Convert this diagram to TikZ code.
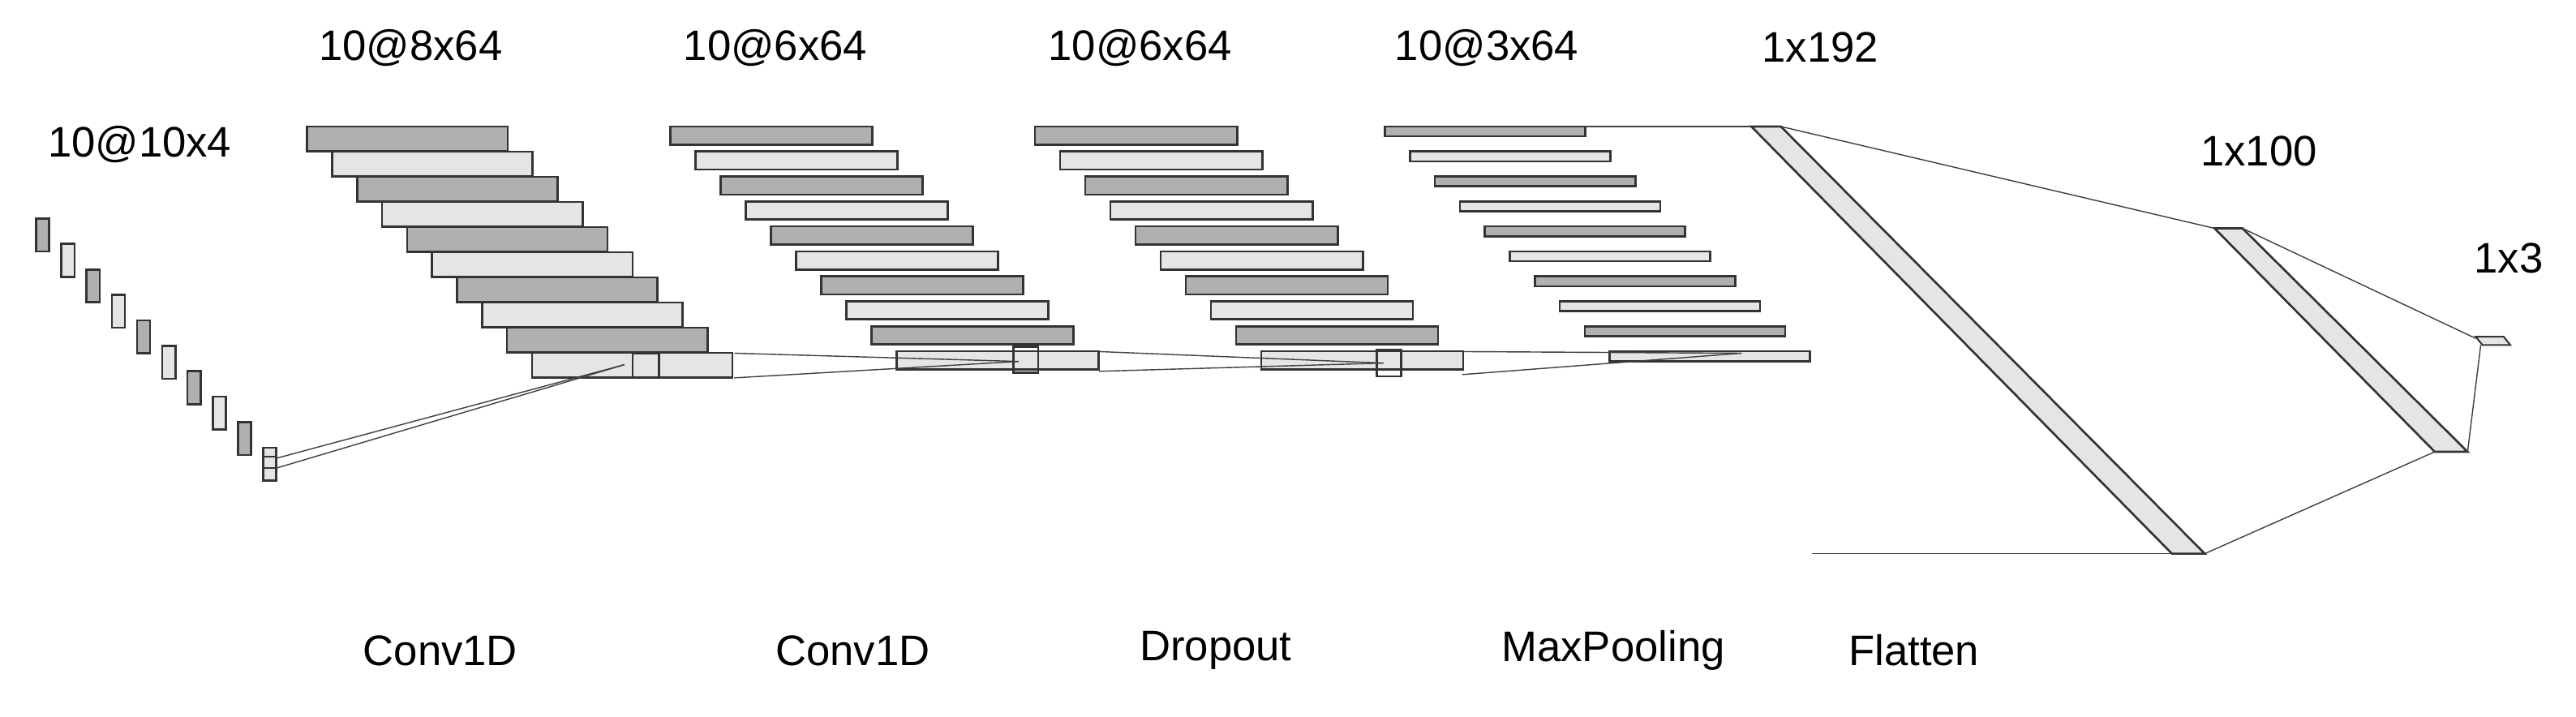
\documentclass[tikz,border=0pt]{standalone}
\usepackage{fontspec}
\setmainfont{Liberation Sans}
\begin{document}
\begin{tikzpicture}[x=1pt,y=-1pt,
  dk/.style={fill=black!31,draw=black!80,line width=1.3pt},
  lt/.style={fill=black!10,draw=black!80,line width=1.3pt},
  con/.style={draw=black!75,line width=0.7pt},
  lbl/.style={font=\fontsize{26}{30}\selectfont,inner sep=0pt}]
\useasboundingbox (0,0) rectangle (1568,436.4);
% input
\foreach \i in {0,...,9}{
  \pgfmathsetmacro\xx{22+15.35*\i}\pgfmathsetmacro\yy{133+15.5*\i}
  \pgfmathtruncatemacro\m{mod(\i,2)}
  \ifnum\m=0 \draw[dk] (\xx,\yy) rectangle ++(8,20);\else\draw[lt] (\xx,\yy) rectangle ++(8,20);\fi}
\draw[black!80,line width=1pt] (160.2,278) rectangle (168.2,285);
\coordinate (i1) at (168,279); \coordinate (i2) at (168,285);
% conv1
\foreach \i in {0,...,9}{
  \pgfmathsetmacro\xx{187+15.2*\i}\pgfmathsetmacro\yy{77+15.3*\i}
  \pgfmathtruncatemacro\m{mod(\i,2)}
  \ifnum\m=0 \draw[dk] (\xx,\yy) rectangle ++(122,15);\else\draw[lt] (\xx,\yy) rectangle ++(122,15);\fi}
\draw[black!80,line width=1.3pt] (385,215) rectangle (401,230);
\coordinate (c1k) at (380,222);
\coordinate (c1a) at (447,215); \coordinate (c1b) at (447,230);
% conv2
\foreach \i in {0,...,9}{
  \pgfmathsetmacro\xx{408+15.3*\i}\pgfmathsetmacro\yy{77+15.2*\i}
  \pgfmathtruncatemacro\m{mod(\i,2)}
  \ifnum\m=0 \draw[dk] (\xx,\yy) rectangle ++(123,11);\else\draw[lt] (\xx,\yy) rectangle ++(123,11);\fi}
\draw[black!80,line width=1.3pt] (617,211) rectangle (632,227);
\coordinate (c2k) at (620,220);
\coordinate (c2a) at (669,214); \coordinate (c2b) at (669,226);
% dropout
\foreach \i in {0,...,9}{
  \pgfmathsetmacro\xx{630+15.3*\i}\pgfmathsetmacro\yy{77+15.2*\i}
  \pgfmathtruncatemacro\m{mod(\i,2)}
  \ifnum\m=0 \draw[dk] (\xx,\yy) rectangle ++(123,11);\else\draw[lt] (\xx,\yy) rectangle ++(123,11);\fi}
\draw[black!80,line width=1.3pt] (838,213) rectangle (853,229);
\coordinate (dk) at (842,221);
\coordinate (da) at (890,214); \coordinate (db) at (890,228);
% maxpool
\foreach \i in {0,...,9}{
  \pgfmathsetmacro\xx{843+15.2*\i}\pgfmathsetmacro\yy{77+15.2*\i}
  \pgfmathtruncatemacro\m{mod(\i,2)}
  \ifnum\m=0 \draw[dk] (\xx,\yy) rectangle ++(122,6);\else\draw[lt] (\xx,\yy) rectangle ++(122,6);\fi}
\coordinate (mk) at (1060,215);
\coordinate (mt) at (965,77); \coordinate (mb) at (1103,337);
% flatten
\draw[lt] (1066,77) -- (1084,77) -- (1342,337) -- (1322,337) -- cycle;
\coordinate (ft) at (1066,77); \coordinate (ftr) at (1084,77);
\coordinate (fb) at (1322,337); \coordinate (fbr) at (1342,337);
% dense
\draw[lt] (1348,139) -- (1365,139) -- (1502,275) -- (1482,275) -- cycle;
\coordinate (dt) at (1348,139); \coordinate (dtr) at (1365,139);
\coordinate (db2) at (1482,275); \coordinate (dbr) at (1502,275);
% output
\draw[lt,line width=1pt] (1507,205) -- (1524,205) -- (1528,210) -- (1511,210) -- cycle;
\coordinate (ot) at (1507,206); \coordinate (ob) at (1510,210);
% connectors
\draw[con] (i1) -- (c1k); \draw[con] (i2) -- (c1k);
\draw[con] (c1a) -- (c2k); \draw[con] (c1b) -- (c2k);
\draw[con] (c2a) -- (dk); \draw[con] (c2b) -- (dk);
\draw[con] (da) -- (mk); \draw[con] (db) -- (mk);
\draw[con] (mt) -- (ft); \draw[con] (mb) -- (fb);
\draw[con] (ftr) -- (dt); \draw[con] (fbr) -- (db2);
\draw[con] (dtr) -- (ot); \draw[con] (dbr) -- (ob);
% labels
\node[lbl] (l0) at (85,88) {10@10x4};
\node[lbl] (l1) at (250,29) {10@8x64};
\node[lbl] (l2) at (472,29) {10@6x64};
\node[lbl] (l3) at (694,29) {10@6x64};
\node[lbl] (l4) at (905,29) {10@3x64};
\node[lbl] (l5) at (1108,29) {1x192};
\node[lbl] (l6) at (1375,92) {1x100};
\node[lbl] (l7) at (1527,157) {1x3};
\node[lbl] (b1) at (268,396) {Conv1D};
\node[lbl] (b2) at (519,396) {Conv1D};
\node[lbl] (b3) at (740,396) {Dropout};
\node[lbl] (b4) at (982,396) {MaxPooling};
\node[lbl] (b5) at (1165,396) {Flatten};
\end{tikzpicture}
\end{document}
